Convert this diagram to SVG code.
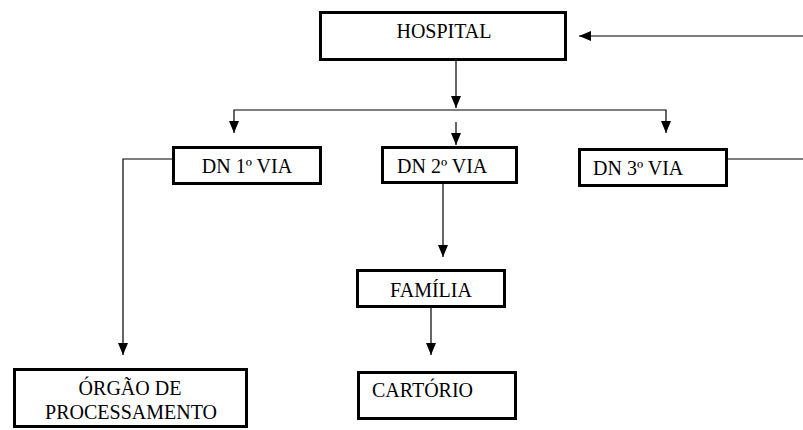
<svg xmlns="http://www.w3.org/2000/svg" width="803" height="430" viewBox="0 0 803 430">
<style>
.box{fill:#fff;stroke:#000;stroke-width:3}
text{font-family:'Liberation Serif','Times New Roman','DejaVu Serif',serif;font-size:20px;fill:#000}
.c{text-anchor:middle}
.con{fill:none;stroke:#000;stroke-width:1.2}
</style>
<defs>
<marker id="ah" markerUnits="userSpaceOnUse" markerWidth="13" markerHeight="11" refX="12" refY="5.5" orient="auto" viewBox="0 0 13 11">
<path d="M0,0.5 L12,5.5 L0,10.5 z" fill="#000"/>
</marker>
</defs>
<rect width="803" height="430" fill="#fff"/>
<g id="connectors">
<path class="con" d="M456,61 V108" marker-end="url(#ah)"/>
<path class="con" d="M456,110 H234 V133" marker-end="url(#ah)"/>
<path class="con" d="M456,110 H666 V133" marker-end="url(#ah)"/>
<path class="con" d="M456,122 V145" marker-end="url(#ah)"/>
<path class="con" d="M172,159 H123 V355" marker-end="url(#ah)"/>
<path class="con" d="M443,184 V257" marker-end="url(#ah)"/>
<path class="con" d="M431,308 V355" marker-end="url(#ah)"/>
<path class="con" d="M728,159 H805 V36 H579" marker-end="url(#ah)"/>
</g>
<g id="hospital">
<rect class="box" x="320.5" y="12.5" width="245" height="47"/>
<text class="c" x="444" y="38" font-family="Liberation Serif, serif">HOSPITAL</text>
</g>
<g id="dn1">
<rect class="box" x="173.5" y="147.5" width="147" height="36"/>
<text class="c" x="247" y="173" font-family="Liberation Serif, serif">DN 1º VIA</text>
</g>
<g id="dn2">
<rect class="box" x="382.5" y="147.5" width="134" height="35"/>
<text x="397" y="173" font-family="Liberation Serif, serif">DN 2º VIA</text>
</g>
<g id="dn3">
<rect class="box" x="579.5" y="149.5" width="147" height="36"/>
<text x="593" y="175" font-family="Liberation Serif, serif">DN 3º VIA</text>
</g>
<g id="familia">
<rect class="box" x="357.5" y="270.5" width="147" height="36"/>
<text class="c" x="431" y="297" font-family="Liberation Serif, serif">FAMÍLIA</text>
</g>
<g id="cartorio">
<rect class="box" x="358.5" y="372.5" width="157" height="46"/>
<text x="372" y="397" font-family="Liberation Serif, serif">CARTÓRIO</text>
</g>
<g id="orgao">
<rect class="box" x="14.5" y="369.5" width="232" height="57"/>
<text class="c" x="130" y="395" font-family="Liberation Serif, serif">ÓRGÃO DE</text>
<text class="c" x="131" y="419" font-family="Liberation Serif, serif">PROCESSAMENTO</text>
</g>
</svg>
